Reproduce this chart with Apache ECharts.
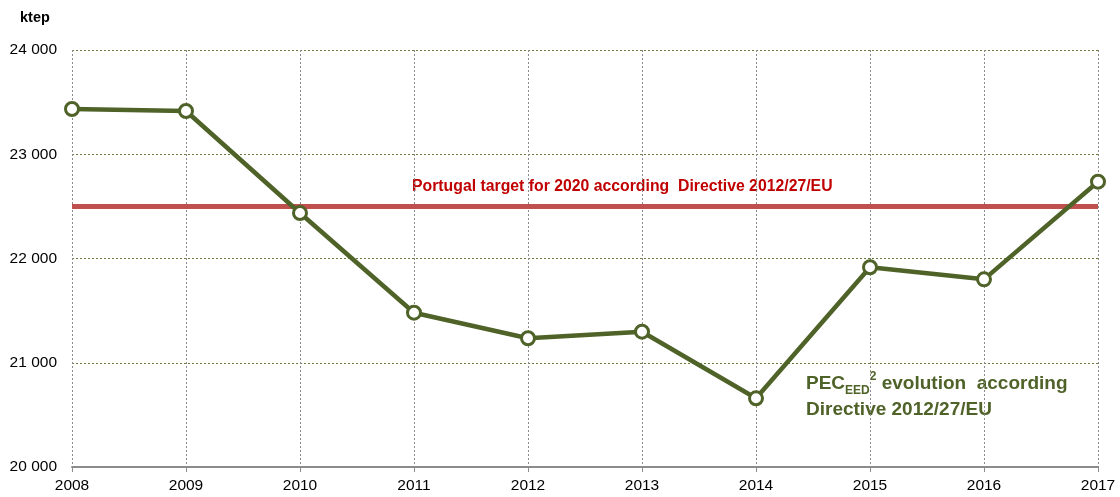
<!DOCTYPE html>
<html>
<head>
<meta charset="UTF-8">
<title>PEC evolution</title>
<script src="https://cdn.jsdelivr.net/npm/echarts@6/dist/echarts.min.js"></script>
<style>
  html, body { margin: 0; padding: 0; background: #fff; }
  #main { width: 1120px; height: 497px; }
</style>
</head>
<body>
<div id="main"></div>
<script>
// data
var years = ['2008', '2009', '2010', '2011', '2012', '2013', '2014', '2015', '2016', '2017'];
var pec = [23434, 23415, 22436, 21480, 21235, 21298, 20659, 21916, 21800, 22737];
var target = [22500, 22500, 22500, 22500, 22500, 22500, 22500, 22500, 22500, 22500];
var yTicks = [20000, 21000, 22000, 23000, 24000];

var green = '#4F6228';
var red = '#C0504D';

var chart = echarts.init(document.getElementById('main'));

chart.setOption({
  animation: false,
  textStyle: { fontFamily: 'Liberation Sans, Arial, sans-serif' },
  grid: { left: 72, right: 22, top: 50, bottom: 30 },
  xAxis: {
    type: 'category',
    data: years,
    boundaryGap: false,
    axisLine: { lineStyle: { color: '#8c8c8c', width: 2 } },
    axisTick: { show: true, length: 5, lineStyle: { color: '#8c8c8c', width: 1 } },
    axisLabel: { color: '#000', fontSize: 15.5, margin: 11 },
    splitLine: { show: true, lineStyle: { color: '#8a8a8a', type: [2, 2], width: 1 } }
  },
  yAxis: {
    type: 'value',
    min: yTicks[0],
    max: yTicks[yTicks.length - 1],
    interval: 1000,
    axisLine: { show: false },
    axisTick: { show: false },
    axisLabel: {
      color: '#000', fontSize: 15.5, margin: 15,
      formatter: function (v) { return String(v).replace(/(\d+)(\d{3})$/, '$1 $2'); }
    },
    splitLine: { lineStyle: { color: '#6b7a3a', type: [2, 2], width: 1 } }
  },
  graphic: [
    { type: 'text', left: 20, top: 10, style: { text: 'ktep', fontSize: 14.5, fontWeight: 'bold', fill: '#000', fontFamily: 'Liberation Sans, Arial' } },
    { type: 'text', left: 412, top: 179, style: { text: 'Portugal target for 2020 according  Directive 2012/27/EU', fontSize: 15.8, fontWeight: 'bold', fill: '#C00000', fontFamily: 'Liberation Sans, Arial' } },
    {
      type: 'text', left: 806, top: 371,
      style: {
        text: '{n|PEC}{sub|EED}{sup|2}{n| evolution  according}\n{n|Directive 2012/27/EU}',
        fill: green,
        fontFamily: 'Liberation Sans, Arial',
        rich: {
          n: { fontSize: 19, fontWeight: 'bold', fill: green, lineHeight: 26 },
          sub: { fontSize: 12, fontWeight: 'bold', fill: green, verticalAlign: 'bottom', lineHeight: 26, padding: [9, 0, 0, 0] },
          sup: { fontSize: 12, fontWeight: 'bold', fill: green, verticalAlign: 'top', lineHeight: 26, padding: [0, 0, 7, 0] }
        }
      }
    }
  ],
  series: [
    {
      name: 'target',
      type: 'line',
      data: target,
      symbol: 'none',
      lineStyle: { color: red, width: 5 },
      z: 2
    },
    {
      name: 'PEC',
      type: 'line',
      data: pec,
      symbol: 'circle',
      symbolSize: 13,
      showAllSymbol: true,
      lineStyle: { color: green, width: 4.5 },
      itemStyle: { color: '#fff', borderColor: green, borderWidth: 3 },
      z: 3
    }
  ]
});
</script>
</body>
</html>
